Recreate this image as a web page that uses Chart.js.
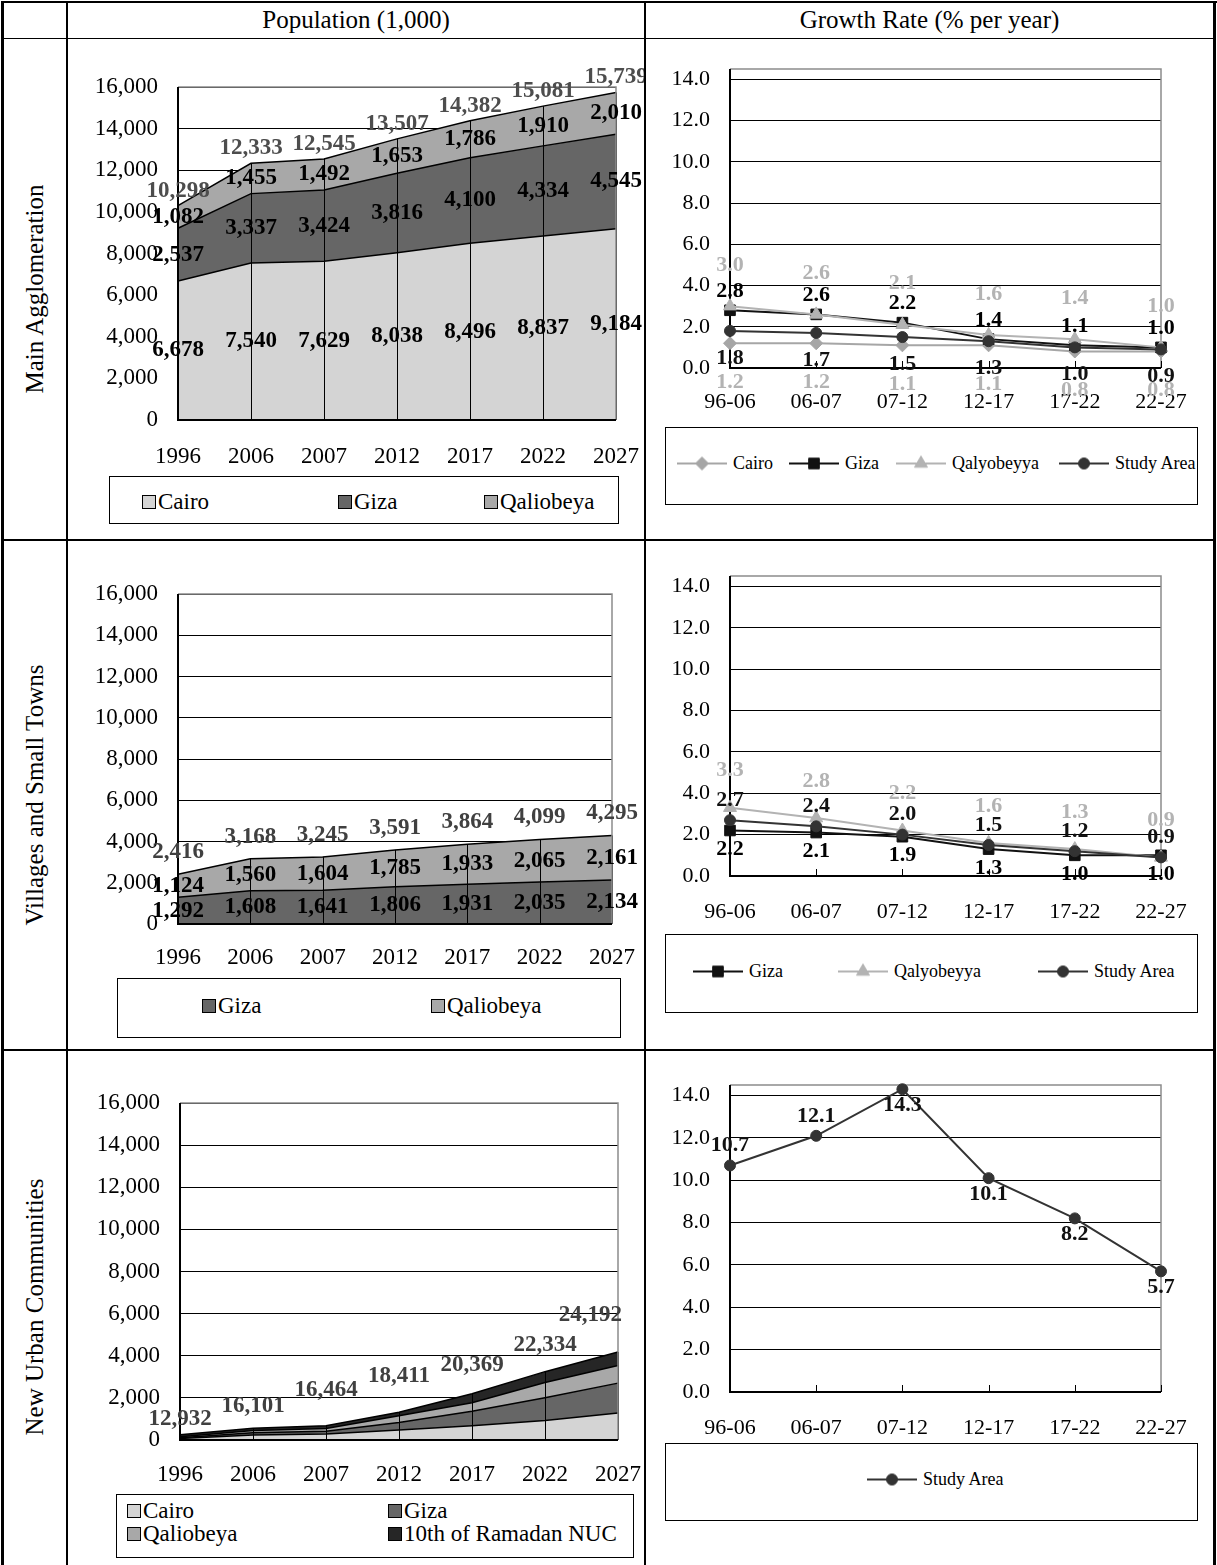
<!DOCTYPE html>
<html lang="en">
<head>
<meta charset="utf-8">
<title>Population and Growth Rate by Area</title>
<script src="https://cdn.jsdelivr.net/npm/chart.js@4.4.1/dist/chart.umd.min.js"></script>
<style>
  html, body { margin:0; padding:0; background:#fff; }
  body { position:relative; width:1217px; height:1565px; overflow:hidden;
         font-family:"Liberation Serif","Times New Roman",serif; color:#000; }
  .rule { position:absolute; background:#000; }
  .head { position:absolute; top:2px; height:36px; line-height:36px; text-align:center; font-size:25px; }
  .side { position:absolute; left:35px; font-size:25px; white-space:nowrap;
          transform:translate(-50%,-50%) rotate(-90deg); }
  canvas { position:absolute; }
  .legend { position:absolute; border:1px solid #000; box-sizing:border-box; overflow:hidden; background:#fff; }
  .item { position:absolute; white-space:nowrap; display:flex; align-items:center; transform:translateY(-50%); }
  .swatch { width:14px; height:14px; border:1px solid #000; margin-right:2px; box-sizing:border-box; }
  .big { font-size:23px; }
  .small { font-size:18px; }
  .sample { position:static; margin-right:6px; }
</style>
</head>
<body>
<!-- table frame -->
<div class="rule" style="left:1px;top:1px;width:1216px;height:2px"></div>
<div class="rule" style="left:2px;top:38px;width:1214px;height:1px"></div>
<div class="rule" style="left:2px;top:539px;width:1214px;height:2px"></div>
<div class="rule" style="left:2px;top:1049px;width:1214px;height:2px"></div>
<div class="rule" style="left:1px;top:1px;width:3px;height:1565px"></div>
<div class="rule" style="left:66px;top:1px;width:2px;height:1565px"></div>
<div class="rule" style="left:644px;top:1px;width:2px;height:1565px"></div>
<div class="rule" style="left:1213px;top:1px;width:3px;height:1565px"></div>

<div class="head" style="left:67px;width:578px">Population (1,000)</div>
<div class="head" style="left:645px;width:569px">Growth Rate (% per year)</div>

<div class="side" style="top:289px">Main Agglomeration</div>
<div class="side" style="top:795px">Villages and Small Towns</div>
<div class="side" style="top:1307px">New Urban Communities</div>

<script>
// ---------- data ----------
const years   = ['1996', '2006', '2007', '2012', '2017', '2022', '2027'];
const periods = ['96-06', '06-07', '07-12', '12-17', '17-22', '22-27'];
const popTicks  = [0, 2000, 4000, 6000, 8000, 10000, 12000, 14000, 16000];
const rateTicks = [0, 2, 4, 6, 8, 10, 12, 14];

// Main Agglomeration, population (1,000)
const mainCairo     = [6678, 7540, 7629, 8038, 8496, 8837, 9184];
const mainGiza      = [2537, 3337, 3424, 3816, 4100, 4334, 4545];
const mainQaliobeya = [1082, 1455, 1492, 1653, 1786, 1910, 2010];
const mainTotal     = [10298, 12333, 12545, 13507, 14382, 15081, 15739];

// Villages and Small Towns, population (1,000)
const villGiza      = [1292, 1608, 1641, 1806, 1931, 2035, 2134];
const villQaliobeya = [1124, 1560, 1604, 1785, 1933, 2065, 2161];
const villTotal     = [2416, 3168, 3245, 3591, 3864, 4099, 4295];

// New Urban Communities, population
const nucCairo      = [70, 240, 290, 480, 675, 930, 1285];
const nucGiza       = [40, 110, 130, 355, 690, 1075, 1415];
const nucQaliobeya  = [50, 100, 130, 320, 400, 725, 835];
const nucRamadan    = [90, 110, 125, 160, 435, 515, 645];
const nucTotal      = [12932, 16101, 16464, 18411, 20369, 22334, 24192];

// Growth rates (% per year)
const rateMainCairo      = [1.2, 1.2, 1.1, 1.1, 0.8, 0.8];
const rateMainGiza       = [2.8, 2.6, 2.2, 1.4, 1.1, 1.0];
const rateMainQalyobeyya = [3.0, 2.6, 2.1, 1.6, 1.4, 1.0];
const rateMainStudy      = [1.8, 1.7, 1.5, 1.3, 1.0, 0.9];

const rateVillGiza       = [2.2, 2.1, 1.9, 1.3, 1.0, 1.0];
const rateVillQalyobeyya = [3.3, 2.8, 2.2, 1.6, 1.3, 0.9];
const rateVillStudy      = [2.7, 2.4, 2.0, 1.5, 1.2, 0.9];

const rateNucStudy       = [10.7, 12.1, 14.3, 10.1, 8.2, 5.7];

// ---------- styling ----------
const FAMILY = '"Liberation Serif", "Times New Roman", serif';
Chart.defaults.font.family = FAMILY;
Chart.defaults.color = '#000';

const FILL = { cairo: '#d4d4d4', giza: '#666666', qal: '#a8a8a8', ram: '#262626' };
const LINE = { cairo: '#a6a6a6', giza: '#111111', qal: '#b3b3b3', study: '#333333' };
const LABEL_GREY = '#b3b3b3';

const fmtInt = v => String(v).replace(/\B(?=(\d{3})+(?!\d))/g, ',');

// ---------- plugins ----------
const dropLines = {
  id: 'dropLines',
  afterDatasetsDraw(chart) {
    const xs = chart.scales.x, ys = chart.scales.y, ctx = chart.ctx;
    ctx.save();
    ctx.strokeStyle = '#000';
    ctx.lineWidth = 1;
    chart.data.labels.forEach((_, i) => {
      const top = chart.data.datasets.reduce((s, d) => s + d.data[i], 0);
      const x = Math.round(xs.getPixelForValue(i)) + 0.5;
      ctx.beginPath();
      ctx.moveTo(x, ys.getPixelForValue(0));
      ctx.lineTo(x, ys.getPixelForValue(top));
      ctx.stroke();
    });
    ctx.restore();
  }
};

function drawFrame(chart, o) {
  const { ctx, chartArea: a } = chart;
  ctx.save();
  ctx.lineWidth = 1.5;
  ctx.strokeStyle = '#8c8c8c';
  ctx.beginPath();
  ctx.moveTo(a.left, a.top); ctx.lineTo(a.right, a.top); ctx.lineTo(a.right, a.bottom);
  ctx.stroke();
  ctx.lineWidth = 2;
  ctx.strokeStyle = '#000';
  ctx.beginPath();
  ctx.moveTo(a.left, a.top); ctx.lineTo(a.left, a.bottom); ctx.lineTo(a.right, a.bottom);
  ctx.stroke();
  if (o.tickMarks) {
    ctx.lineWidth = 1;
    chart.data.labels.forEach((_, i) => {
      const x = Math.round(chart.scales.x.getPixelForValue(i)) + 0.5;
      ctx.beginPath(); ctx.moveTo(x, a.bottom); ctx.lineTo(x, a.bottom - o.tickMarks); ctx.stroke();
    });
  }
  ctx.restore();
}
const frame = {
  id: 'frame',
  beforeDatasetsDraw(chart, args, o) { if (!o.after) drawFrame(chart, o); },
  afterDatasetsDraw(chart, args, o) { if (o.after) drawFrame(chart, o); }
};

const valueLabels = {
  id: 'valueLabels',
  afterDraw(chart, args, opts) {
    const { ctx } = chart;
    const xs = chart.scales.x, ys = chart.scales.y;
    const ds = chart.data.datasets;
    ctx.save();
    ctx.font = 'bold ' + (opts.size || 22) + 'px ' + FAMILY;
    ctx.textAlign = 'center';
    ctx.textBaseline = 'middle';
    (opts.items || []).forEach(it => {
      chart.data.labels.forEach((_, i) => {
        let x = xs.getPixelForValue(i), y, text;
        if (it.kind === 'segment') {
          let base = 0;
          for (let d = 0; d < it.dataset; d++) base += ds[d].data[i];
          const v = ds[it.dataset].data[i];
          y = (ys.getPixelForValue(base) + ys.getPixelForValue(base + v)) / 2;
          text = fmtInt(v);
        } else if (it.kind === 'total') {
          const sum = ds.reduce((s, d) => s + d.data[i], 0);
          const off = Array.isArray(it.offset) ? it.offset[i] : it.offset;
          y = ys.getPixelForValue(sum) - off;
          text = fmtInt(it.values[i]);
        } else {
          const v = ds[it.dataset].data[i];
          const side = it.sides ? it.sides[i] : it.side;
          const off = side === 'above' ? -(it.above || it.offset) : (it.below || it.offset);
          y = ys.getPixelForValue(v) + off;
          text = v.toFixed(1);
        }
        if (it.clampRight != null) {
          const w = ctx.measureText(text).width;
          x = Math.min(x, chart.chartArea.right + it.clampRight - w / 2);
        }
        ctx.fillStyle = it.color;
        ctx.fillText(text, x, y);
      });
    });
    ctx.restore();
  }
};

// ---------- helpers ----------
function area(label, data, color, fill) {
  return { label, data, fill, backgroundColor: color, borderColor: '#000', borderWidth: 1.5,
           pointRadius: 0, tension: 0, clip: false };
}
function rateLine(label, data, color, pointStyle, radius, order) {
  return { label, data, order, borderColor: color, backgroundColor: color,
           pointBackgroundColor: color, pointBorderColor: color, pointStyle, pointRadius: radius,
           pointBorderWidth: 1, borderWidth: 2, tension: 0, fill: false, clip: false };
}
function catAxis(size) {
  return { type: 'category', offset: false,
           ticks: { font: { size }, color: '#000', maxRotation: 0, autoSkip: false },
           grid: { display: false, drawTicks: false }, border: { display: false } };
}
function popAxis() {
  return { stacked: true, min: 0, max: 16000,
           afterBuildTicks: s => { s.ticks = popTicks.map(v => ({ value: v })); },
           ticks: { padding: 20, color: '#000', font: { size: 23 }, callback: v => fmtInt(v) },
           grid: { color: '#000', lineWidth: 1, drawTicks: false }, border: { display: false } };
}
function rateAxis() {
  return { min: 0, max: 14.5,
           afterBuildTicks: s => { s.ticks = rateTicks.map(v => ({ value: v })); },
           ticks: { padding: 20, color: '#000', font: { size: 22 }, callback: v => Number(v).toFixed(1) },
           grid: { color: '#000', lineWidth: 1, drawTicks: false }, border: { display: false } };
}

// Fix a chart's plot rectangle inside its canvas: axis boxes get exact sizes and
// label overhang is not allowed to shrink the plot area.
function noOverhang(s) {
  s.paddingTop = 0; s.paddingBottom = 0; s.paddingLeft = 0; s.paddingRight = 0;
}
function mount(box, plot, labelY, config) {
  const cv = document.createElement('canvas');
  cv.width = box.w; cv.height = box.h;
  cv.style.left = box.x + 'px'; cv.style.top = box.y + 'px';
  cv.style.width = box.w + 'px'; cv.style.height = box.h + 'px';
  document.body.appendChild(cv);
  const o = config.options;
  o.responsive = false; o.animation = false; o.devicePixelRatio = 1; o.events = [];
  o.layout = { autoPadding: false,
               padding: { left: 0, bottom: 0, top: plot.t - box.y, right: box.x + box.w - plot.r } };
  o.plugins.legend = { display: false };
  o.plugins.tooltip = { enabled: false };
  const xs = o.scales.x, ys = o.scales.y;
  const yw = plot.l - box.x, xh = box.y + box.h - plot.b;
  ys.afterFit = s => { s.width = yw; noOverhang(s); };
  xs.afterFit = s => { s.height = xh; noOverhang(s); };
  xs.ticks.padding = labelY - plot.b - xs.ticks.font.size * 0.6;
  return new Chart(cv, config);
}

// legend with square swatches
function swatchLegend(box, cls, chart, spots) {
  const el = document.createElement('div');
  el.className = 'legend ' + cls;
  Object.assign(el.style, { left: box.x + 'px', top: box.y + 'px', width: box.w + 'px', height: box.h + 'px' });
  chart.data.datasets.forEach((d, i) => {
    const it = document.createElement('div');
    it.className = 'item';
    it.style.left = (spots[i][0] - box.x) + 'px';
    it.style.top = (spots[i][1] - box.y) + 'px';
    const sw = document.createElement('span');
    sw.className = 'swatch';
    sw.style.background = d.backgroundColor;
    const tx = document.createElement('span');
    tx.textContent = d.label;
    it.appendChild(sw); it.appendChild(tx);
    el.appendChild(it);
  });
  document.body.appendChild(el);
}

// legend with line + marker samples
function lineLegend(box, chart, spots) {
  const el = document.createElement('div');
  el.className = 'legend small';
  Object.assign(el.style, { left: box.x + 'px', top: box.y + 'px', width: box.w + 'px', height: box.h + 'px' });
  chart.data.datasets.forEach((d, i) => {
    const it = document.createElement('div');
    it.className = 'item';
    it.style.left = (spots[i] - box.x) + 'px';
    it.style.top = (box.cy - box.y) + 'px';
    const c = document.createElement('canvas');
    c.className = 'sample';
    c.width = 50; c.height = 20;
    const g = c.getContext('2d');
    g.strokeStyle = d.borderColor; g.lineWidth = 2;
    g.beginPath(); g.moveTo(0, 10); g.lineTo(50, 10); g.stroke();
    g.fillStyle = d.pointBackgroundColor; g.strokeStyle = d.pointBorderColor; g.lineWidth = 1;
    Chart.helpers.drawPoint(g, { pointStyle: d.pointStyle, radius: d.pointRadius, rotation: 0, borderWidth: 1 }, 25, 10);
    const tx = document.createElement('span');
    tx.textContent = d.label;
    it.appendChild(c); it.appendChild(tx);
    el.appendChild(it);
  });
  document.body.appendChild(el);
}

// ---------- Main Agglomeration ----------
const mainPop = mount({ x: 70, y: 60, w: 574, h: 415 }, { l: 178, r: 616, t: 87, b: 420 }, 457, {
  type: 'line',
  data: { labels: years, datasets: [
    area('Cairo', mainCairo, FILL.cairo, 'origin'),
    area('Giza', mainGiza, FILL.giza, '-1'),
    area('Qaliobeya', mainQaliobeya, FILL.qal, '-1') ] },
  options: {
    scales: { x: catAxis(23), y: popAxis() },
    plugins: {
      frame: { after: true },
      valueLabels: { size: 23, items: [
        { kind: 'segment', dataset: 0, color: '#000' },
        { kind: 'segment', dataset: 1, color: '#000' },
        { kind: 'segment', dataset: 2, color: '#000' },
        { kind: 'total', values: mainTotal, color: '#4d4d4d', offset: 15 } ] }
    }
  },
  plugins: [dropLines, frame, valueLabels]
});
swatchLegend({ x: 109, y: 476, w: 510, h: 48 }, 'big', mainPop, [[141, 501], [337, 501], [483, 501]]);

const mainRate = mount({ x: 650, y: 50, w: 560, h: 375 }, { l: 730, r: 1161, t: 69, b: 368 }, 402, {
  type: 'line',
  data: { labels: periods, datasets: [
    rateLine('Cairo', rateMainCairo, LINE.cairo, 'rectRot', 6.5, 4),
    rateLine('Giza', rateMainGiza, LINE.giza, 'rect', 7.5, 3),
    rateLine('Qalyobeyya', rateMainQalyobeyya, LINE.qal, 'triangle', 7.5, 2),
    rateLine('Study Area', rateMainStudy, LINE.study, 'circle', 5.5, 1) ] },
  options: {
    scales: { x: catAxis(22), y: rateAxis() },
    plugins: {
      frame: { after: false, tickMarks: 7 },
      valueLabels: { size: 22, items: [
        { kind: 'point', dataset: 2, side: 'above', offset: 41, color: LABEL_GREY },
        { kind: 'point', dataset: 1, side: 'above', offset: 19, color: '#000' },
        { kind: 'point', dataset: 3, side: 'below', offset: 27, color: '#111' },
        { kind: 'point', dataset: 0, side: 'below', offset: 39, color: LABEL_GREY } ] }
    }
  },
  plugins: [frame, valueLabels]
});
lineLegend({ x: 665, y: 427, w: 533, h: 78, cy: 462 }, mainRate, [676, 788, 895, 1058]);

// ---------- Villages and Small Towns ----------
const villPop = mount({ x: 70, y: 565, w: 574, h: 408 }, { l: 178, r: 612, t: 594, b: 924 }, 958, {
  type: 'line',
  data: { labels: years, datasets: [
    area('Giza', villGiza, FILL.giza, 'origin'),
    area('Qaliobeya', villQaliobeya, FILL.qal, '-1') ] },
  options: {
    scales: { x: catAxis(23), y: popAxis() },
    plugins: {
      frame: { after: true },
      valueLabels: { size: 23, items: [
        { kind: 'segment', dataset: 0, color: '#000' },
        { kind: 'segment', dataset: 1, color: '#000' },
        { kind: 'total', values: villTotal, color: '#404040', offset: 22 } ] }
    }
  },
  plugins: [dropLines, frame, valueLabels]
});
swatchLegend({ x: 117, y: 978, w: 504, h: 60 }, 'big', villPop, [[201, 1005], [430, 1005]]);

const villRate = mount({ x: 650, y: 555, w: 560, h: 378 }, { l: 730, r: 1161, t: 576, b: 876 }, 912, {
  type: 'line',
  data: { labels: periods, datasets: [
    rateLine('Giza', rateVillGiza, LINE.giza, 'rect', 7.5, 3),
    rateLine('Qalyobeyya', rateVillQalyobeyya, LINE.qal, 'triangle', 7.5, 2),
    rateLine('Study Area', rateVillStudy, LINE.study, 'circle', 5.5, 1) ] },
  options: {
    scales: { x: catAxis(22), y: rateAxis() },
    plugins: {
      frame: { after: false, tickMarks: 7 },
      valueLabels: { size: 22, items: [
        { kind: 'point', dataset: 1, side: 'above', offset: 37, color: LABEL_GREY },
        { kind: 'point', dataset: 2, side: 'above', offset: 20, color: '#111' },
        { kind: 'point', dataset: 0, side: 'below', offset: 19, color: '#000' } ] }
    }
  },
  plugins: [frame, valueLabels]
});
lineLegend({ x: 665, y: 934, w: 533, h: 79, cy: 970 }, villRate, [692, 837, 1037]);

// ---------- New Urban Communities ----------
const nucPop = mount({ x: 70, y: 1075, w: 574, h: 418 }, { l: 180, r: 618, t: 1103, b: 1440 }, 1475, {
  type: 'line',
  data: { labels: years, datasets: [
    area('Cairo', nucCairo, FILL.cairo, 'origin'),
    area('Giza', nucGiza, FILL.giza, '-1'),
    area('Qaliobeya', nucQaliobeya, FILL.qal, '-1'),
    area('10th of Ramadan NUC', nucRamadan, FILL.ram, '-1') ] },
  options: {
    scales: { x: catAxis(23), y: popAxis() },
    plugins: {
      frame: { after: true },
      valueLabels: { size: 23, items: [
        { kind: 'total', values: nucTotal, color: '#404040', offset: [16, 22, 36, 36, 29, 27, 37], clampRight: 4 } ] }
    }
  },
  plugins: [dropLines, frame, valueLabels]
});
swatchLegend({ x: 116, y: 1494, w: 518, h: 64 }, 'big', nucPop, [[126, 1510], [387, 1510], [126, 1533], [387, 1533]]);

const nucRate = mount({ x: 650, y: 1060, w: 560, h: 382 }, { l: 730, r: 1161, t: 1085, b: 1392 }, 1428, {
  type: 'line',
  data: { labels: periods, datasets: [
    rateLine('Study Area', rateNucStudy, LINE.study, 'circle', 5.5, 1) ] },
  options: {
    scales: { x: catAxis(22), y: rateAxis() },
    plugins: {
      frame: { after: false, tickMarks: 7 },
      valueLabels: { size: 22, items: [
        { kind: 'point', dataset: 0, sides: ['above', 'above', 'below', 'below', 'below', 'below'],
          above: 20, below: 16, color: '#111' } ] }
    }
  },
  plugins: [frame, valueLabels]
});
lineLegend({ x: 665, y: 1443, w: 533, h: 78, cy: 1478 }, nucRate, [866]);
</script>
</body>
</html>
